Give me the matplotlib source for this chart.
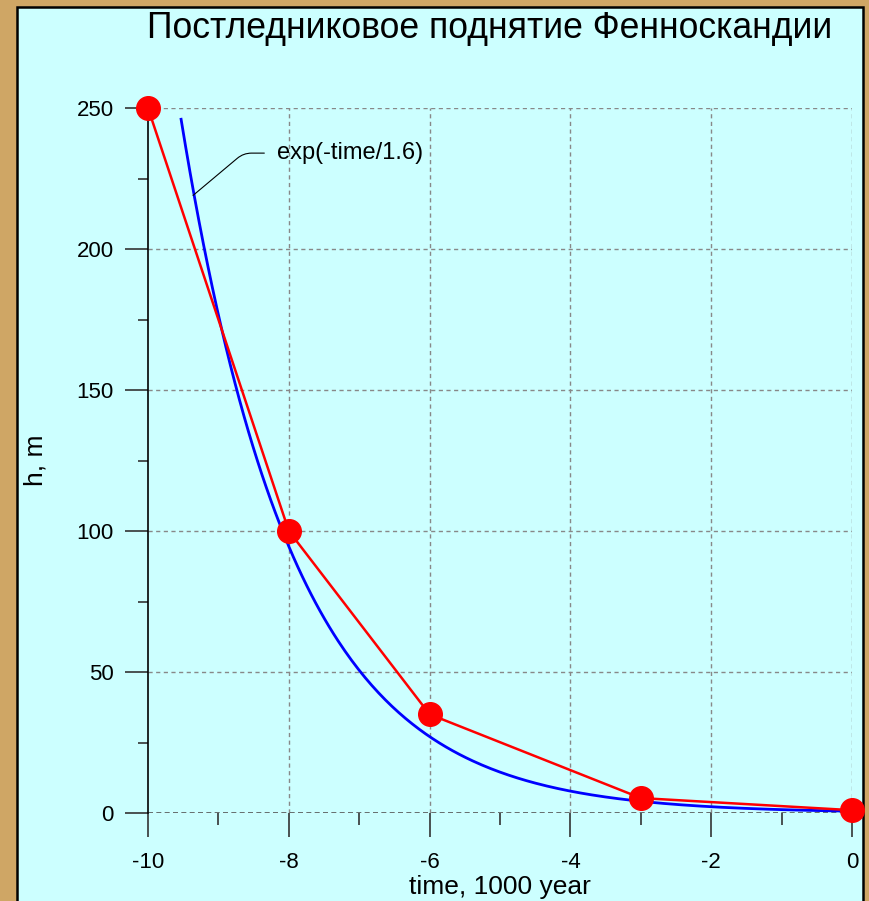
import numpy as np
import matplotlib
matplotlib.use("Agg")
import matplotlib.pyplot as plt
from matplotlib.patches import Rectangle

plt.rcParams['font.family'] = ['Liberation Sans', 'DejaVu Sans']
plt.rcParams['axes.unicode_minus'] = False

# Data
time_obs = [-10, -8, -6, -3, 0]
height_obs = [250, 100, 35, 5.3, 1]
fit_amplitude = 330.0
fit_tau = 1.6
fit_start, fit_end = -9.53, 0.0
title = "Постледниковое поднятие Фенноскандии"
xlabel = "time, 1000 year"
ylabel = "h, m"
fit_label = "exp(-time/1.6)"

W, H = 869, 901
fig = plt.figure(figsize=(W / 100, H / 100), dpi=100)
fig.patch.set_facecolor('#CFA665')
bg = Rectangle((17 / W, -0.01), (863 - 17) / W, 1 - 7 / H + 0.01,
               transform=fig.transFigure, facecolor='#CCFFFF',
               edgecolor='black', linewidth=1.8, zorder=-10)
fig.patches.append(bg)

ax = fig.add_axes([148 / W, 1 - 813 / H, 704 / W, 705 / H], zorder=5)
ax.set_facecolor('none')
ax.set_xlim(-10, 0)
ax.set_ylim(0, 250)

# grid
for x in np.arange(-8, 1, 2):
    ax.axvline(x, color='#888888', lw=1, ls=(0, (3, 2.5)), zorder=1)
for y in np.arange(50, 251, 50):
    ax.axhline(y, color='#888888', lw=1, ls=(0, (3, 2.5)), zorder=1)
ax.axhline(0, color='#555555', lw=1.2, ls=(0, (3, 2)), zorder=1)

for s in ['top', 'right', 'bottom']:
    ax.spines[s].set_visible(False)
ax.spines['left'].set_color('black')
ax.spines['left'].set_linewidth(1.2)

ax.set_xticks(np.arange(-10, 1, 2))
ax.set_xticks(np.arange(-9, 0, 2), minor=True)
ax.set_yticks(np.arange(0, 251, 50))
ax.set_yticks(np.arange(25, 250, 50), minor=True)
ax.tick_params(axis='x', which='major', direction='out', length=17, width=1.2,
               color='#333333', pad=11, labelsize=16)
ax.tick_params(axis='x', which='minor', direction='out', length=8.5, width=1.2,
               color='#333333')
ax.tick_params(axis='y', which='major', direction='out', length=16.5, width=1.2,
               color='#333333', pad=8, labelsize=16)
ax.tick_params(axis='y', which='minor', direction='out', length=7.5, width=1.2,
               color='#333333')

# fit curve
tt = np.linspace(fit_start, fit_end, 300)
hh = fit_amplitude * np.exp(-(tt - time_obs[0]) / fit_tau)
ax.plot(tt, hh, color='#0000FF', lw=2, zorder=3)

# observations
ax.plot(time_obs, height_obs, color='#FF0000', lw=1.8, zorder=4, clip_on=False)
ax.plot(time_obs, height_obs, 'o', color='#FF0000', ms=17, mec='#FF0000',
        zorder=5, clip_on=False)

# annotation
ax.annotate(fit_label, xy=(-9.36, 219), xytext=(-8.17, 234),
            fontsize=17, va='center', ha='left',
            arrowprops=dict(arrowstyle='-', color='black', lw=0.8,
                            connectionstyle='angle,angleA=0,angleB=40,rad=8',
                            shrinkA=7, shrinkB=0))

fig.text(490 / W, 1 - 28 / H, title, fontsize=25.6, ha='center', va='center')
fig.text(500 / W, 1 - 887 / H, xlabel, fontsize=19, ha='center', va='center')
fig.text(35 / W, 1 - 460 / H, ylabel, fontsize=19, ha='center', va='center',
         rotation=90)

fig.savefig('out.png', dpi=100, facecolor=fig.get_facecolor())
